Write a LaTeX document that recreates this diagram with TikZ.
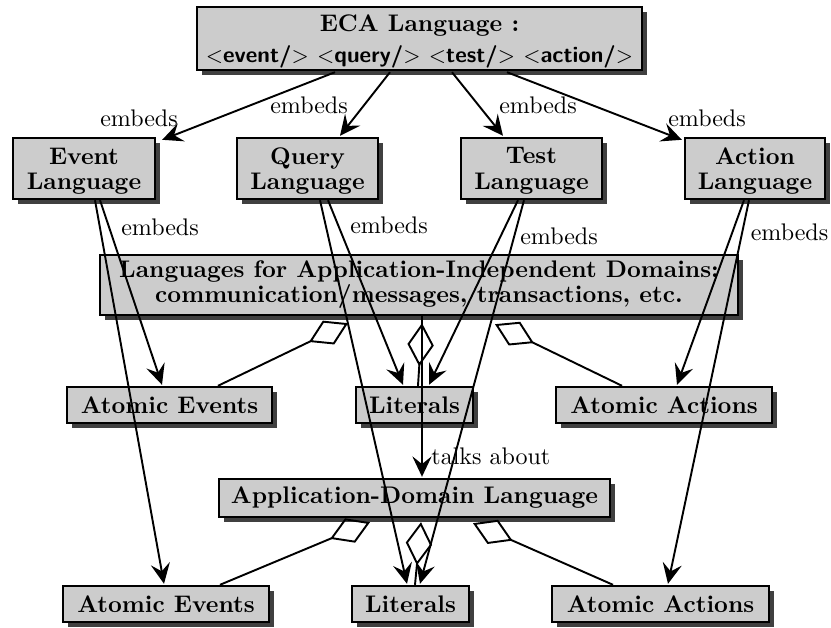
\documentclass[tikz,border=0pt]{standalone}
\usetikzlibrary{arrows.meta,shadows,calc}
\definecolor{boxgray}{HTML}{CCCCCC}
\definecolor{shadowgray}{HTML}{404040}
\def\px{0.4167pt}
\begin{document}
\begin{tikzpicture}[x=0.4167pt,y=-0.4167pt,
  box/.style={draw=black,line width=1pt,fill=boxgray,align=center,inner sep=0pt,
    font=\bfseries\fontsize{10pt}{10.5pt}\selectfont,
    drop shadow={shadow xshift=2.1pt,shadow yshift=-2.1pt,opacity=1,fill=shadowgray}},
  lowtext/.style={text depth=0pt},
  conn/.style={line width=0.8pt,-{Stealth[length=8.5pt,width=8pt,inset=3.2pt]}},
  comp/.style={line width=0.8pt,-{Diamond[open,length=18pt,width=11pt]}},
  lbl/.style={inner sep=0pt,font=\fontsize{10pt}{12pt}\selectfont}]
\useasboundingbox (0,0) rectangle (831,628);
% nodes
\node[box,lowtext,minimum width={445*\px},minimum height={63*\px}] (eca) at (419.5,38.5)
  {ECA Language :\\[2.5pt]{\sffamily\fontsize{9.4pt}{11pt}\selectfont $<$event/$>$ $<$query/$>$ $<$test/$>$ $<$action/$>$}};
\node[box,lowtext,minimum width={142*\px},minimum height={61*\px}] (evl) at (84,168.5) {Event\\Language};
\node[box,lowtext,minimum width={141*\px},minimum height={61*\px}] (qul) at (307.5,168.5) {Query\\Language};
\node[box,lowtext,minimum width={141*\px},minimum height={61*\px}] (tel) at (531.5,168.5) {Test\\Language};
\node[box,lowtext,minimum width={140*\px},minimum height={61*\px}] (acl) at (755,168.5) {Action\\Language};
\node[box,minimum width={638*\px},minimum height={60*\px}] (lai) at (419,285)
  {Languages for Application-Independent Domains:\\communication/messages, transactions, etc.};
\node[box,minimum width={205*\px},minimum height={36*\px}] (ae1) at (169.5,405) {Atomic Events};
\node[box,minimum width={117*\px},minimum height={36*\px}] (li1) at (414.5,405) {Literals};
\node[box,minimum width={216*\px},minimum height={36*\px}] (aa1) at (664,405) {Atomic Actions};
\node[box,minimum width={391*\px},minimum height={38*\px}] (adl) at (414.5,498) {Application-Domain Language};
\node[box,minimum width={206*\px},minimum height={36*\px}] (ae2) at (166,604) {Atomic Events};
\node[box,minimum width={117*\px},minimum height={36*\px}] (li2) at (410.5,604) {Literals};
\node[box,minimum width={217*\px},minimum height={36*\px}] (aa2) at (660.5,604) {Atomic Actions};
% embeds from ECA
\draw[conn] ($(eca.south)+(-84.5,1)$) -- ($(evl.north east)+(6,3)$);
\draw[conn] ($(eca.south)+(-29.5,1)$) -- ($(qul.north)+(32.5,-1)$);
\draw[conn] ($(eca.south)+(32.5,1)$) -- ($(tel.north)+(-28.5,-1)$);
\draw[conn] ($(eca.south)+(87.5,1)$) -- ($(acl.north west)+(-2,3)$);
\node[lbl] (l1) at (139,118) {embeds};
\node[lbl] (l2) at (309,105) {embeds};
\node[lbl] (l3) at (538,105) {embeds};
\node[lbl] (l4) at (707,118) {embeds};
% embeds from sublanguages
\draw[conn] ($(evl.south)+(11,0)$) -- ($(ae2.north)+(-2,-1)$);
\draw[conn] ($(evl.south)+(16,0)$) -- ($(ae1.north)+(-7.5,-1)$);
\draw[conn] ($(qul.south)+(12.5,0)$) -- ($(li2.north)+(-3.5,-1)$);
\draw[conn] ($(qul.south)+(20.5,0)$) -- ($(li1.north)+(-11.5,-1)$);
\draw[conn] ($(tel.south)+(-13.5,0)$) -- ($(li1.north)+(14.5,-1)$);
\draw[conn] ($(tel.south)+(-7.5,0)$) -- ($(li2.north)+(9.5,-1)$);
\draw[conn] ($(acl.south)+(-11,0)$) -- ($(aa1.north)+(13,-1)$);
\draw[conn] ($(acl.south)+(-6,0)$) -- ($(aa2.north)+(7.5,-1)$);
\node[lbl] (l5) at (160,227) {embeds};
\node[lbl] (l6) at (389,225) {embeds};
\node[lbl] (l7) at (559,236) {embeds};
\node[lbl] (l8) at (789.5,232) {embeds};
% compositions
\draw[comp] ($(ae1.north)+(48.5,0)$) -- ($(lai.south)+(-71,7)$);
\draw[comp] ($(li1.north)+(3.5,0)$) -- ($(lai.south)+(3,7)$);
\draw[comp] ($(aa1.north)+(-42,0)$) -- ($(lai.south)+(76,8)$);
\draw[comp] ($(ae2.north)+(54,0)$) -- ($(adl.south)+(-44.5,4)$);
\draw[comp] ($(li2.north)+(4.5,0)$) -- ($(adl.south)+(6.5,4)$);
\draw[comp] ($(aa2.north)+(-47.5,0)$) -- ($(adl.south)+(58.5,5)$);
% talks about
\draw[conn] ($(lai.south)+(3,0)$) -- ($(adl.north)+(7.5,-1)$);
\node[lbl,anchor=west] (l9) at (431,456) {talks about};
\end{tikzpicture}
\end{document}
